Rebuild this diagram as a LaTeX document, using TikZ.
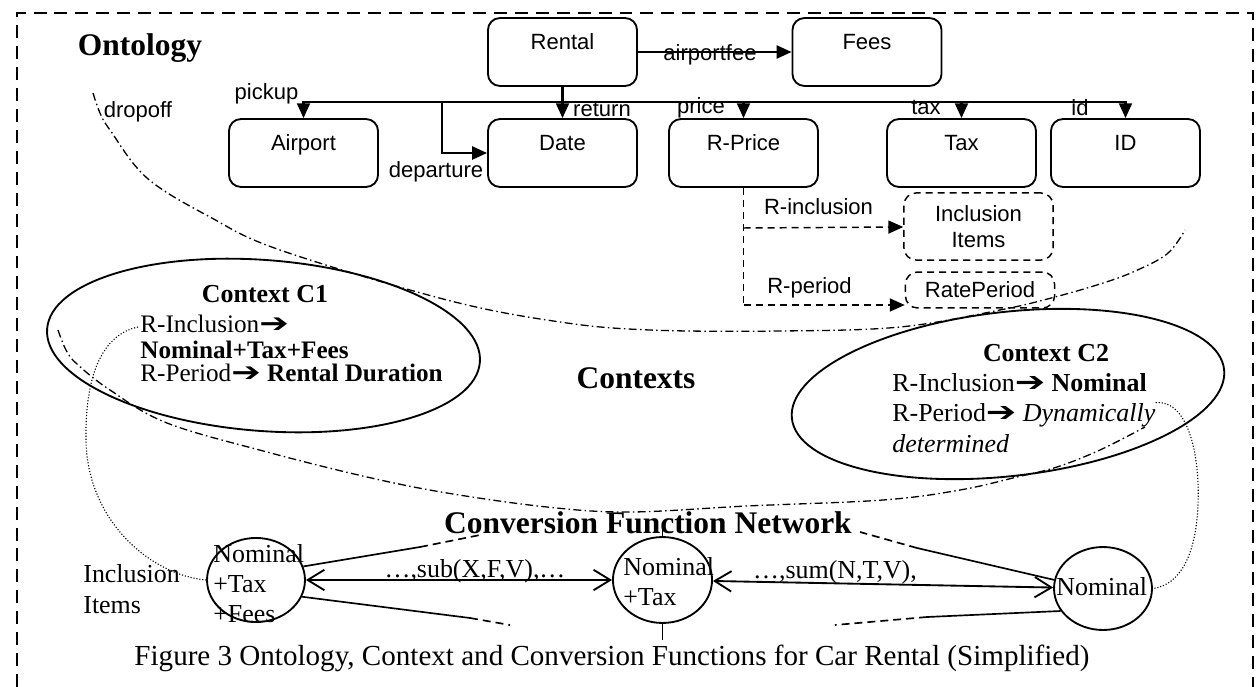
\documentclass[tikz,border=0pt]{standalone}
\usepackage{graphicx}
\usepackage{fontspec}
\setmainfont{Liberation Serif}
\newfontfamily\arialfont{Liberation Sans}
\newfontfamily\symbfont{DejaVu Sans}
\usetikzlibrary{arrows.meta,shapes.geometric}
\newcommand{\sanslab}{\arialfont\fontsize{11.9}{14}\selectfont}
\newcommand{\impl}{\scalebox{1.4}[1.05]{\symbfont\bfseries ➔}}
\newcommand{\tightlines}{\fontsize{13.6}{12.3}\selectfont\lineskiplimit=-20pt\relax}

\begin{document}
\begin{tikzpicture}[x=0.54pt, y=-0.54pt,
    border/.style={line width=1.6pt, dash pattern=on 7pt off 4.3pt},
    obox/.style={draw, rounded corners=6.5pt, line width=1pt, minimum width=80.5pt, minimum height=36.7pt, inner sep=0pt, font=\sanslab, text height=8pt, text depth=10.7pt},
    dbox/.style={draw, rounded corners=6.5pt, line width=0.8pt, dash pattern=on 3.8pt off 2.7pt, minimum width=80.5pt, inner sep=0pt, font=\sanslab, align=center},
    lab/.style={font=\sanslab, inner sep=0pt},
    link/.style={-{Triangle[length=8pt,width=7pt]}, line width=1.2pt},
    dlink/.style={-{Triangle[length=8pt,width=7pt]}, line width=0.8pt, dash pattern=on 3.8pt off 2.7pt},
    dline/.style={line width=0.8pt, dash pattern=on 3.8pt off 2.7pt},
    ctx/.style={ellipse, draw, line width=1pt, inner sep=0pt},
    txt/.style={font=\fontsize{14}{16}\selectfont, inner sep=0pt, anchor=base west},
    ctxhead/.style={font=\fontsize{14}{16}\selectfont\bfseries, inner sep=0pt, anchor=base},
    head/.style={font=\fontsize{17}{20}\selectfont\bfseries, inner sep=0pt, anchor=base},
    caption/.style={font=\fontsize{15.7}{18}\selectfont, inner sep=0pt, anchor=base},
    conv/.style={{Straight Barb[length=9pt,width=11pt]}-{Straight Barb[length=9pt,width=11pt]}, line width=1pt},
    net/.style={line width=0.9pt},
    netd/.style={line width=0.9pt, dash pattern=on 4.3pt off 2.7pt},
    ddot/.style={line width=0.7pt, dash pattern=on 4.3pt off 1.8pt on 0.8pt off 1.8pt},
    dots/.style={line width=0.6pt, dash pattern=on 0.6pt off 1pt}]
    \useasboundingbox (0,0) rectangle (1256,687);
    \draw[border] (17,687) -- (17,13) -- (1253,13) -- (1253,687);

    % ontology
    \node[head] at (140,55) (tont) {Ontology};
    \node[obox] at (562.5,52)   (rental)  {Rental};
    \node[obox] at (867,52)     (fees)    {Fees};
    \node[obox] at (303.5,153)  (airport) {Airport};
    \node[obox] at (562.5,153)  (date)    {Date};
    \node[obox] at (743.5,153)  (rprice)  {R-Price};
    \node[obox] at (961.5,153)  (tax)     {Tax};
    \node[obox] at (1125.5,153) (id)      {ID};
    \node[dbox, minimum height=36.2pt] at (978.5,226.5) (incl) {Inclusion\\Items};
    \node[dbox, minimum height=19.4pt] at (980,290) (rateper) {RatePeriod};

    \coordinate (bus) at (562.5,102);
    \coordinate (dep) at (442,102);
    \draw[link] (rental) -- (date);
    \draw[link] (rental) -- (fees);
    \draw[link] (bus) -| (airport);
    \draw[link] (bus) -| (rprice);
    \draw[link] (bus) -| (tax);
    \draw[link] (bus) -| (id);
    \draw[link] (dep) |- (date);

    \coordinate (rp1) at (743.5,228);
    \coordinate (rp2) at (743.5,305);
    \draw[dline] (rprice) -- (rp2);
    \draw[dlink] (rp1) -- (incl);
    \draw[dlink] (rp2) -- (rp2 -| rateper.west);

    \node[lab] at (710,55)     (lfee)    {airportfee};
    \node[lab] at (266.5,93.5) (lpickup) {pickup};
    \node[lab] at (602,109)    (lreturn) {return};
    \node[lab] at (701,108)    (lprice)  {price};
    \node[lab] at (926,107.5)  (ltax)    {tax};
    \node[lab] at (1080,108)   (lid)     {id};
    \node[lab] at (436,172)    (ldep)    {departure};
    \node[lab] at (138,111.5)  (ldrop)   {dropoff};
    \node[lab] at (818.5,207)  (lrincl)  {R-inclusion};
    \node[lab] at (809.5,288)  (lrper)   {R-period};

    \draw[ddot] plot[smooth, tension=0.6] coordinates {(93,93) (100,113) (110,130) (147,178) (210,217) (280,250) (447,300) (560,322) (650,330) (780,331) (900,327) (1000,310) (1055,297) (1100,284) (1133,272) (1167,254) (1185,230)};

    % contexts
    \node[ctx, minimum width=234.4pt, minimum height=92.3pt, rotate=-4.4] at (263.5,345.5) (c1) {};
    \node[ctx, minimum width=234.9pt, minimum height=88.6pt, rotate=6.5] at (1008,394) (c2) {};
    \node[head] at (636,388) (tctx) {Contexts};

    \node[ctxhead] at (265,302) (c1head) {Context C1};
    \node[txt, anchor=north west, align=left, font=\tightlines] at (140,315) (c1body)
        {R-Inclusion\impl\\[1.5pt] \textbf{Nominal+Tax+Fees}\\ R-Period\impl\ \textbf{Rental Duration}};

    \node[ctxhead] at (1046,361) (c2head) {Context C2};
    \node[txt] at (892,391) (c2a) {R-Inclusion\impl\ \textbf{Nominal}};
    \node[txt] at (892,421) (c2b) {R-Period\impl\ \textit{Dynamically}};
    \node[txt] at (892,452) (c2c) {\textit{determined}};

    \draw[ddot] plot[smooth, tension=0.6] coordinates {(58,330) (66,350) (77,364) (110,390) (167,423) (267,452) (367,477) (447,493) (547,507) (630,512) (747,506) (883,500) (960,490) (1017,477) (1057,467) (1100,450) (1145,427)};

    % conversion function network
    \node[head] at (648,533) (tcfn) {Conversion Function Network};
    \node[ctx, minimum width=52.9pt, minimum height=45.4pt] at (256,580)    (cf1) {};
    \node[ctx, minimum width=53.5pt, minimum height=46.4pt] at (662.5,580)  (cf2) {};
    \node[ctx, minimum width=52.9pt, minimum height=44.8pt] at (1103,588.5) (cf3) {};
    \node[txt] at (213,562)  (cf1a) {Nominal};
    \node[txt] at (213,592)  (cf1b) {+Tax};
    \node[txt] at (213,622)  (cf1c) {+Fees};
    \node[txt] at (623,575)  (cf2a) {Nominal};
    \node[txt] at (623,605)  (cf2b) {+Tax};
    \node[txt] at (1056,595) (cf3a) {Nominal};
    \node[txt] at (83,582)   (lincl1) {Inclusion};
    \node[txt] at (83,613)   (lincl2) {Items};

    \draw[conv] (cf1) -- (cf2);
    \draw[conv] (cf2) -- (cf3);
    \node[txt, anchor=base] at (475,577) (lsub) {…,sub(X,F,V),…};
    \node[txt, anchor=base] at (835,578) (lsum) {…,sum(N,T,V),};

    \coordinate (n1a) at (420,547);
    \coordinate (n1b) at (480,535);
    \coordinate (n2a) at (470,618);
    \coordinate (n2b) at (510,625);
    \coordinate (n3a) at (917,548);
    \coordinate (n3b) at (860,532);
    \coordinate (n4a) at (927,617);
    \coordinate (n4b) at (835,625);
    \coordinate (cup) at (662.5,526);
    \coordinate (cdn) at (662.5,640);
    \draw[net] (cf1.16) -- (n1a);
    \draw[netd] (n1a) -- (n1b);
    \draw[net] (cf1.-20) -- (n2a);
    \draw[netd] (n2a) -- (n2b);
    \draw[net] (cf3.170) -- (n3a);
    \draw[netd] (n3a) -- (n3b);
    \draw[net] (cf3.-152) -- (n4a);
    \draw[netd] (n4a) -- (n4b);
    \draw[net] (cf2.north) -- (cup);
    \draw[net] (cf2.south) -- (cdn);

    \coordinate (dstart) at (138,327);
    \draw[dots] (dstart) .. controls (100,335) and (85,380) .. (86,440)
        .. controls (87,520) and (150,575) .. (cf1.west);
    \draw[dots] (c2b.north east) .. controls (1190,400) and (1200,460) .. (1198,505)
        .. controls (1196,555) and (1180,585) .. (cf3.east);

    \node[caption] at (612,665) (cap) {Figure 3 Ontology, Context and Conversion Functions for Car Rental (Simplified)};
\end{tikzpicture}
\end{document}
